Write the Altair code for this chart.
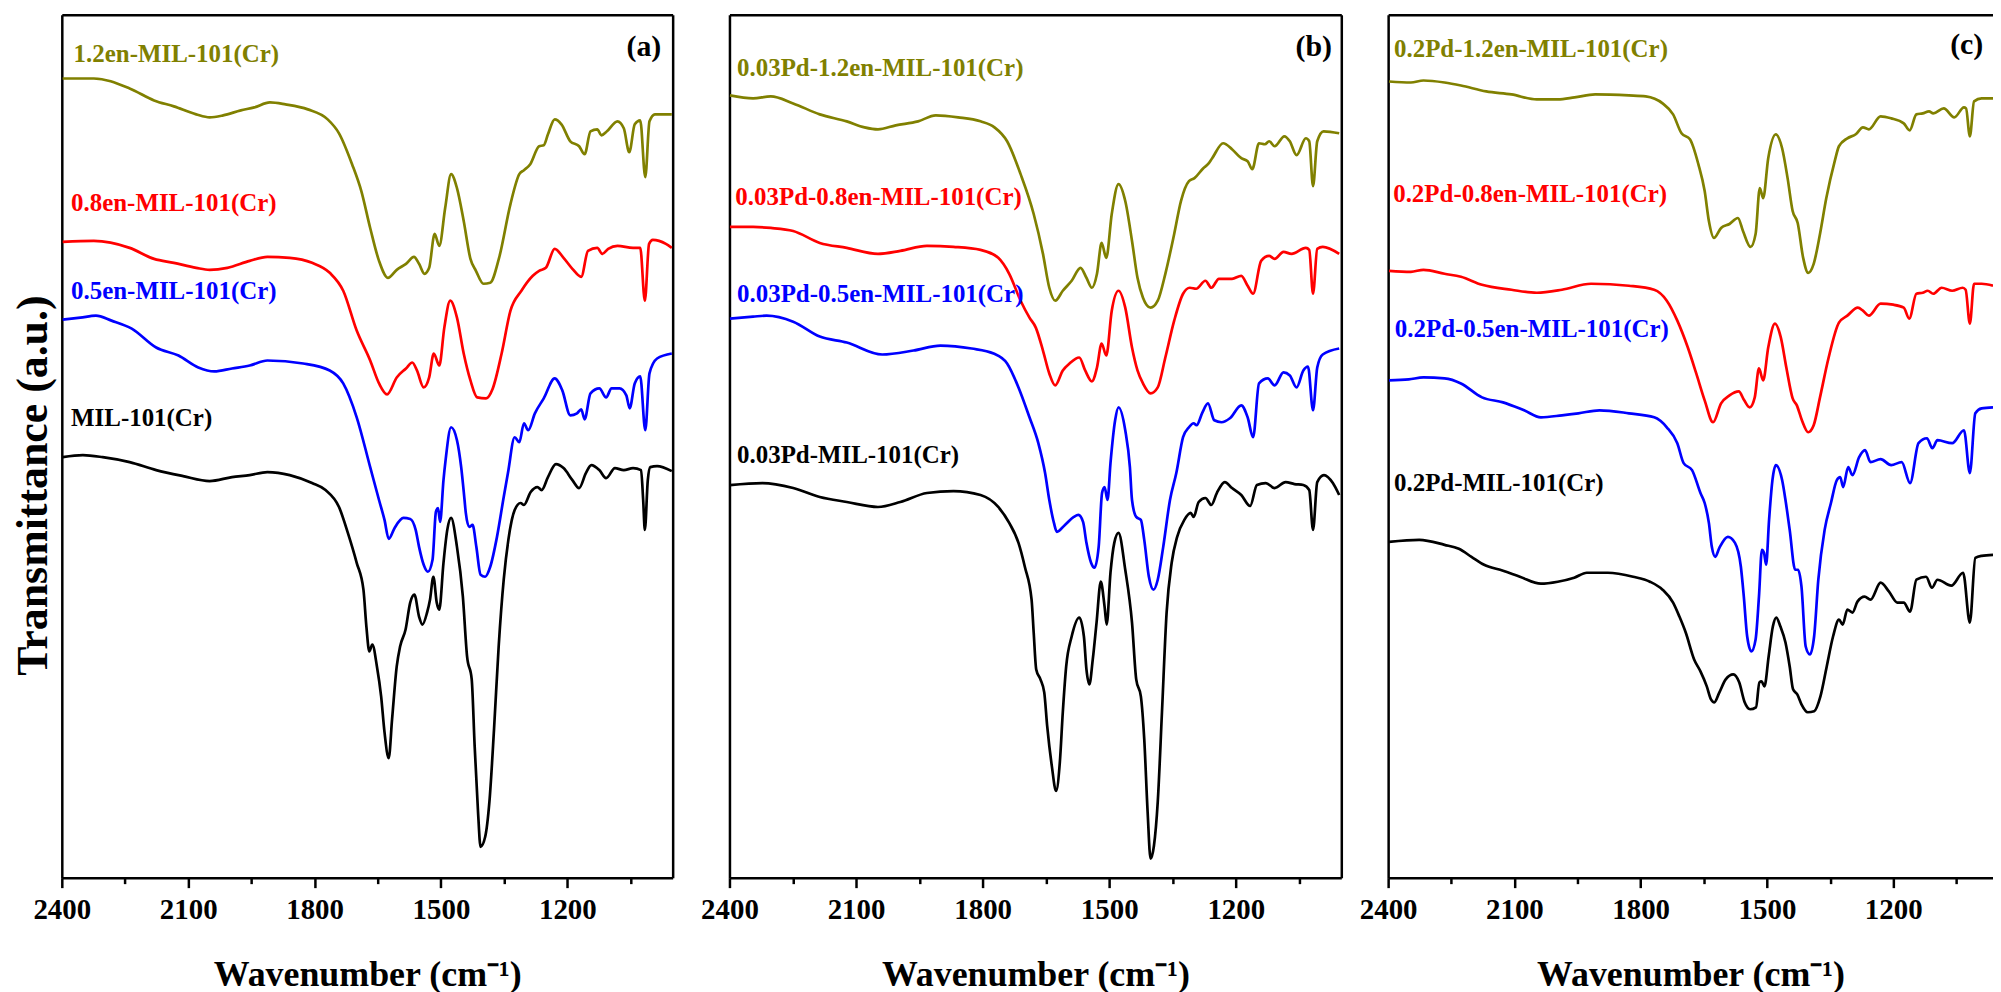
import altair as alt
import pandas as pd

FONT = "Liberation Serif"

# ---------------- Panel (a) ----------------
A_OLIVE_WN = [2398, 2324, 2239, 2181, 2134, 2081, 2049, 2017, 1975, 1943, 1906, 1869, 1816, 1769, 1742, 1711, 1689, 1668, 1647, 1626,
              1605, 1583, 1564, 1552, 1539, 1528, 1515, 1504, 1490, 1476, 1462, 1446, 1430, 1417, 1399, 1383, 1362, 1335, 1314, 1303,
              1288, 1267, 1256, 1246, 1230, 1214, 1193, 1172, 1159, 1145, 1129, 1119, 1106, 1081, 1066, 1053, 1040, 1027, 1015, 1005, 992, 952]
A_OLIVE_T = [80.2, 80.2, 79.2, 78.0, 77.4, 76.6, 76.3, 76.5, 77.0, 77.3, 77.8, 77.6, 77.1, 76.1, 74.7, 71.6, 68.9, 65.2, 61.9, 60.2,
             61.0, 61.6, 62.3, 61.6, 60.6, 61.2, 64.6, 63.4, 67.2, 70.6, 69.2, 65.9, 62.1, 60.9, 59.6, 59.7, 62.2, 67.6, 70.6, 71.0,
             71.6, 73.4, 73.5, 74.6, 76.1, 75.6, 73.9, 73.4, 72.6, 74.9, 75.1, 74.5, 74.9, 75.9, 75.2, 72.8, 75.6, 76.0, 70.3, 75.9, 76.6, 76.6]

A_RED_WN = [2398, 2324, 2239, 2181, 2134, 2081, 2049, 2007, 1954, 1912, 1859, 1806, 1764, 1732, 1700, 1668, 1647, 1628, 1605, 1583,
            1568, 1557, 1541, 1528, 1517, 1504, 1492, 1478, 1462, 1446, 1430, 1414, 1393, 1377, 1356, 1335, 1309, 1282, 1267, 1251,
            1230, 1209, 1188, 1167, 1151, 1129, 1117, 1103, 1081, 1044, 1027, 1016, 1006, 997, 966, 952]
A_RED_T = [63.8, 63.9, 63.2, 62.1, 61.7, 61.2, 61.0, 61.2, 61.9, 62.3, 62.2, 61.7, 60.7, 58.9, 54.9, 51.9, 49.6, 48.5, 50.2, 51.1,
           51.7, 50.9, 49.2, 50.2, 52.6, 51.4, 55.2, 57.9, 56.2, 52.6, 49.9, 48.2, 48.1, 49.1, 52.6, 56.9, 58.9, 60.4, 60.9, 61.2,
           63.1, 62.2, 61.1, 60.3, 62.9, 63.2, 62.6, 63.1, 63.4, 63.2, 63.2, 57.9, 63.6, 64.0, 63.6, 63.2]

A_BLUE_WN = [2398, 2356, 2319, 2282, 2234, 2176, 2123, 2076, 2038, 1996, 1954, 1912, 1827, 1764, 1732, 1700, 1668, 1647, 1634, 1624,
             1610, 1589, 1573, 1560, 1552, 1541, 1531, 1520, 1512, 1507, 1502, 1494, 1489, 1476, 1462, 1452, 1444, 1441, 1433, 1425,
             1416, 1406, 1395, 1383, 1367, 1351, 1341, 1325, 1314, 1303, 1293, 1277, 1256, 1230, 1212, 1193, 1177, 1167, 1159, 1145,
             1124, 1108, 1095, 1076, 1060, 1052, 1040, 1027, 1015, 1005, 987, 952]
A_BLUE_T = [56.0, 56.2, 56.4, 55.9, 55.1, 53.2, 52.4, 51.2, 50.8, 51.1, 51.4, 51.9, 51.6, 50.9, 49.6, 46.2, 41.2, 37.9, 35.9, 34.0,
            35.1, 36.1, 36.0, 34.9, 33.2, 31.4, 30.7, 31.9, 36.7, 37.1, 35.7, 39.9, 41.9, 45.2, 43.9, 41.2, 37.9, 36.6, 35.2, 35.4,
            33.2, 30.4, 30.2, 31.2, 34.2, 38.2, 40.6, 44.2, 43.7, 45.6, 44.9, 46.6, 48.1, 50.1, 48.9, 46.4, 46.6, 47.0, 46.0, 48.6,
            49.1, 48.2, 49.1, 49.1, 48.4, 47.1, 49.6, 50.3, 44.9, 50.6, 52.1, 52.6]

A_BLACK_WN = [2398, 2350, 2303, 2239, 2176, 2112, 2049, 1996, 1954, 1912, 1859, 1806, 1774, 1742, 1721, 1700, 1684, 1677, 1670, 1663,
              1652, 1642, 1634, 1624, 1616, 1605, 1597, 1584, 1573, 1563, 1552, 1544, 1533, 1526, 1518, 1510, 1504, 1494, 1485, 1476,
              1462, 1448, 1438, 1427, 1420, 1412, 1406, 1395, 1385, 1374, 1363, 1351, 1340, 1325, 1311, 1303, 1287, 1271, 1261, 1246,
              1227, 1209, 1188, 1172, 1156, 1143, 1124, 1108, 1087, 1066, 1044, 1025, 1020, 1016, 1009, 1003, 987, 952]
A_BLACK_T = [42.2, 42.4, 42.2, 41.7, 40.9, 40.3, 39.8, 40.2, 40.4, 40.7, 40.4, 39.6, 38.9, 37.2, 34.6, 31.6, 28.9, 25.2, 22.7, 23.4,
             21.2, 18.2, 14.6, 12.0, 15.9, 21.2, 23.2, 24.9, 27.6, 28.4, 26.2, 25.4, 26.6, 27.9, 30.2, 27.6, 26.9, 31.6, 34.9, 36.1,
             33.2, 28.2, 22.2, 19.9, 13.2, 6.6, 3.1, 4.1, 7.6, 14.9, 23.2, 29.9, 33.9, 36.9, 37.6, 37.4, 38.7, 39.2, 38.9, 40.2,
             41.5, 41.1, 39.9, 39.1, 40.6, 41.4, 40.9, 40.1, 41.1, 40.9, 41.1, 40.9, 37.9, 34.9, 39.9, 41.2, 41.3, 40.8]

# ---------------- Panel (b) ----------------
B_OLIVE_WN = [2399, 2344, 2302, 2249, 2186, 2122, 2080, 2048, 2006, 1953, 1911, 1858, 1805, 1772, 1742, 1710, 1679, 1657, 1642, 1628,
              1610, 1589, 1568, 1554, 1541, 1529, 1518, 1507, 1494, 1478, 1462, 1446, 1433, 1420, 1402, 1385, 1367, 1346, 1330, 1311,
              1298, 1277, 1266, 1256, 1230, 1209, 1187, 1172, 1161, 1145, 1131, 1121, 1108, 1085, 1072, 1056, 1034, 1026, 1017, 1007, 992, 955]
B_OLIVE_T = [78.5, 78.2, 78.4, 77.7, 76.6, 75.9, 75.3, 75.1, 75.5, 75.9, 76.5, 76.3, 75.9, 75.3, 73.9, 70.6, 66.6, 62.6, 59.2, 57.9,
             58.9, 59.9, 61.2, 60.2, 59.2, 60.6, 63.7, 62.2, 66.6, 69.6, 67.9, 63.9, 60.2, 58.2, 57.2, 57.9, 60.6, 64.6, 67.9, 69.9,
             70.2, 71.2, 71.6, 72.2, 73.7, 73.1, 72.2, 71.9, 71.1, 73.7, 73.6, 73.9, 73.4, 74.4, 73.9, 72.5, 74.2, 73.9, 69.4, 73.9, 74.9, 74.7]

B_RED_WN = [2399, 2344, 2302, 2249, 2186, 2122, 2048, 1995, 1932, 1869, 1805, 1763, 1737, 1710, 1689, 1674, 1657, 1642, 1628, 1610,
            1594, 1571, 1557, 1541, 1529, 1518, 1507, 1494, 1478, 1462, 1446, 1433, 1420, 1402, 1385, 1367, 1346, 1325, 1309, 1294,
            1272, 1258, 1240, 1209, 1187, 1172, 1159, 1140, 1121, 1108, 1087, 1068, 1034, 1026, 1017, 1007, 994, 955]
B_RED_T = [65.3, 65.3, 65.2, 64.9, 63.7, 63.2, 62.6, 62.9, 63.4, 63.3, 63.0, 62.2, 60.6, 57.9, 56.2, 55.2, 52.9, 50.6, 49.4, 50.9,
           51.6, 52.2, 50.9, 49.8, 51.2, 53.6, 52.4, 56.9, 58.9, 57.2, 53.2, 50.9, 49.6, 48.6, 49.2, 52.2, 55.9, 58.6, 59.2, 59.1,
           59.9, 59.2, 60.1, 60.1, 60.4, 59.4, 58.6, 61.9, 62.4, 62.1, 62.8, 62.6, 63.2, 63.0, 58.6, 63.1, 63.3, 62.6]

B_BLUE_WN = [2399, 2344, 2312, 2249, 2186, 2122, 2038, 1964, 1900, 1826, 1774, 1742, 1715, 1689, 1668, 1652, 1642, 1631, 1624, 1605,
             1584, 1573, 1562, 1554, 1543, 1535, 1525, 1517, 1511, 1504, 1497, 1486, 1478, 1462, 1451, 1446, 1436, 1425, 1417, 1406,
             1395, 1385, 1372, 1356, 1341, 1325, 1311, 1300, 1293, 1279, 1266, 1251, 1234, 1214, 1187, 1172, 1159, 1145, 1124, 1108,
             1087, 1072, 1056, 1040, 1029, 1017, 1007, 994, 955]
B_BLUE_T = [56.1, 56.3, 56.4, 55.8, 54.3, 53.7, 52.5, 52.9, 53.4, 53.1, 52.6, 51.6, 49.2, 46.2, 43.6, 40.6, 37.9, 35.6, 34.7, 35.4,
            36.2, 36.4, 35.7, 33.6, 31.6, 31.1, 33.2, 38.6, 39.2, 37.9, 41.6, 45.9, 47.2, 44.9, 41.2, 37.9, 36.2, 35.9, 33.9, 30.2,
            28.9, 29.9, 33.2, 37.9, 40.6, 44.2, 45.2, 45.6, 45.4, 46.7, 47.6, 45.9, 45.7, 46.1, 47.4, 46.2, 44.2, 49.6, 50.1, 49.4,
            50.7, 50.4, 49.2, 50.9, 51.3, 46.9, 51.2, 52.5, 53.1]

B_BLACK_WN = [2399, 2322, 2249, 2186, 2122, 2048, 1995, 1932, 1869, 1805, 1763, 1737, 1715, 1700, 1684, 1679, 1673, 1663, 1654, 1647,
              1636, 1626, 1617, 1610, 1602, 1589, 1571, 1560, 1554, 1547, 1539, 1530, 1520, 1511, 1506, 1497, 1488, 1478, 1462, 1446,
              1436, 1425, 1417, 1409, 1402, 1394, 1385, 1375, 1364, 1352, 1339, 1322, 1307, 1300, 1288, 1272, 1258, 1245, 1226, 1209,
              1187, 1166, 1150, 1129, 1108, 1082, 1061, 1040, 1026, 1017, 1007, 991, 970, 955]
B_BLACK_T = [39.4, 39.6, 39.1, 38.2, 37.7, 37.2, 37.7, 38.6, 38.8, 38.4, 37.2, 35.6, 33.6, 31.2, 27.9, 24.6, 20.9, 19.9, 18.6, 15.2,
             11.2, 8.7, 11.6, 16.6, 21.2, 24.2, 26.1, 24.2, 20.9, 19.4, 21.9, 25.6, 29.7, 27.2, 25.4, 30.6, 33.6, 34.6, 30.9, 25.6,
             19.9, 18.2, 13.9, 6.6, 1.9, 3.2, 7.6, 16.6, 26.6, 31.6, 34.2, 35.9, 36.6, 36.2, 37.7, 38.1, 37.4, 38.6, 39.7, 39.1,
             38.4, 37.3, 39.4, 39.6, 39.1, 39.7, 39.5, 39.4, 38.9, 34.9, 39.7, 40.4, 39.6, 38.4]

# ---------------- Panel (c) ----------------
C_OLIVE_WN = [2398, 2346, 2316, 2266, 2227, 2167, 2107, 2047, 1997, 1957, 1908, 1828, 1788, 1748, 1723, 1703, 1683, 1663, 1648, 1638,
              1626, 1609, 1589, 1569, 1557, 1539, 1527, 1517, 1509, 1497, 1479, 1464, 1451, 1439, 1427, 1414, 1402, 1389, 1374, 1359,
              1339, 1329, 1309, 1289, 1272, 1258, 1230, 1205, 1175, 1161, 1145, 1130, 1115, 1105, 1080, 1055, 1032, 1027, 1018, 1008, 990, 963]
C_OLIVE_T = [79.9, 79.8, 80.0, 79.8, 79.5, 78.9, 78.6, 78.1, 78.1, 78.3, 78.6, 78.5, 78.4, 77.7, 76.6, 74.7, 74.1, 71.6, 68.9, 65.9,
             64.2, 65.2, 65.6, 66.2, 64.9, 63.3, 64.6, 69.2, 68.2, 72.2, 74.6, 73.2, 70.2, 66.9, 65.7, 62.2, 60.7, 61.6, 64.6, 68.2,
             71.9, 73.4, 74.2, 74.6, 75.3, 75.1, 76.4, 76.2, 75.7, 75.0, 76.6, 76.7, 76.9, 76.7, 77.2, 76.3, 77.3, 77.2, 74.4, 77.9, 78.2, 78.2]

C_RED_WN = [2398, 2346, 2316, 2266, 2227, 2177, 2107, 2047, 1987, 1918, 1828, 1768, 1738, 1713, 1688, 1668, 1648, 1628, 1609, 1589,
            1567, 1554, 1541, 1529, 1519, 1509, 1497, 1481, 1467, 1454, 1439, 1429, 1417, 1402, 1389, 1374, 1354, 1329, 1309, 1284,
            1272, 1258, 1230, 1200, 1175, 1162, 1145, 1130, 1118, 1105, 1085, 1060, 1035, 1028, 1018, 1008, 990, 963]
C_RED_T = [60.9, 60.8, 61.0, 60.6, 60.3, 59.5, 59.0, 58.7, 59.0, 59.6, 59.4, 59.0, 57.9, 55.9, 53.2, 50.6, 47.9, 45.7, 47.6, 48.4,
           48.8, 47.9, 47.2, 48.2, 51.1, 49.9, 53.2, 55.6, 54.2, 51.2, 48.1, 47.4, 45.9, 44.7, 45.4, 48.2, 52.1, 55.7, 56.4, 57.2,
           56.9, 56.4, 57.6, 57.5, 57.2, 56.1, 58.6, 58.7, 58.9, 58.6, 59.2, 58.9, 59.2, 59.0, 55.6, 59.6, 59.6, 59.4]

C_BLUE_WN = [2398, 2351, 2316, 2266, 2227, 2177, 2127, 2077, 2037, 1987, 1948, 1898, 1828, 1768, 1738, 1713, 1698, 1678, 1658, 1648,
             1638, 1631, 1623, 1613, 1593, 1576, 1562, 1555, 1547, 1537, 1527, 1519, 1512, 1507, 1502, 1495, 1487, 1479, 1464, 1456,
             1446, 1433, 1426, 1418, 1408, 1398, 1388, 1378, 1363, 1348, 1334, 1326, 1319, 1307, 1297, 1281, 1267, 1254, 1230, 1205,
             1180, 1160, 1140, 1120, 1107, 1095, 1060, 1032, 1018, 1005, 990, 963]
C_BLUE_T = [49.9, 50.0, 50.2, 50.1, 49.6, 48.2, 47.7, 46.9, 46.2, 46.4, 46.6, 46.9, 46.6, 46.2, 45.2, 43.6, 41.6, 40.9, 38.6, 37.6,
            35.6, 33.2, 32.2, 33.1, 34.2, 33.6, 31.2, 28.2, 24.2, 22.7, 23.9, 28.2, 32.9, 32.6, 31.4, 35.9, 39.9, 41.4, 39.9, 37.9,
            34.9, 30.9, 30.9, 29.2, 23.2, 22.4, 24.2, 29.9, 34.9, 37.6, 39.9, 40.2, 39.2, 41.2, 40.4, 42.2, 42.9, 41.7, 42.0, 41.4,
            41.7, 39.6, 43.6, 44.1, 43.1, 43.9, 43.6, 44.9, 40.6, 46.6, 47.1, 47.2]

C_BLACK_WN = [2398, 2326, 2266, 2232, 2202, 2172, 2127, 2087, 2037, 1997, 1958, 1928, 1878, 1818, 1778, 1748, 1723, 1708, 1693, 1673,
              1658, 1643, 1633, 1625, 1613, 1598, 1580, 1566, 1553, 1540, 1526, 1518, 1513, 1506, 1496, 1486, 1478, 1468, 1456, 1446,
              1438, 1428, 1418, 1403, 1388, 1373, 1358, 1343, 1329, 1320, 1309, 1297, 1285, 1268, 1254, 1230, 1210, 1190, 1175, 1160,
              1145, 1122, 1108, 1095, 1062, 1034, 1018, 1005, 990, 963]
C_BLACK_T = [33.7, 33.9, 33.4, 33.0, 32.2, 31.4, 30.8, 30.2, 29.5, 29.7, 30.1, 30.6, 30.6, 30.2, 29.7, 28.9, 27.6, 26.2, 24.6, 21.9,
             20.7, 19.2, 17.9, 17.6, 18.6, 19.9, 20.4, 19.6, 17.6, 16.9, 17.1, 19.6, 19.7, 19.2, 22.2, 25.2, 26.1, 25.2, 23.6, 21.2,
             18.9, 18.4, 17.4, 16.6, 16.7, 18.2, 21.2, 24.2, 25.9, 25.4, 26.9, 26.6, 27.7, 28.2, 27.9, 29.6, 28.7, 27.6, 27.6, 26.7,
             29.9, 30.2, 29.1, 29.9, 29.3, 30.6, 25.6, 32.1, 32.3, 32.4]

ROLES = ["olive", "red", "blue", "black"]
COLORS = ["#808000", "#FF0000", "#0000FF", "#000000"]

PANEL_A_NAMES = ["1.2en-MIL-101(Cr)", "0.8en-MIL-101(Cr)", "0.5en-MIL-101(Cr)", "MIL-101(Cr)"]
PANEL_B_NAMES = ["0.03Pd-1.2en-MIL-101(Cr)", "0.03Pd-0.8en-MIL-101(Cr)", "0.03Pd-0.5en-MIL-101(Cr)", "0.03Pd-MIL-101(Cr)"]
PANEL_C_NAMES = ["0.2Pd-1.2en-MIL-101(Cr)", "0.2Pd-0.8en-MIL-101(Cr)", "0.2Pd-0.5en-MIL-101(Cr)", "0.2Pd-MIL-101(Cr)"]

# label anchors (wavenumber, transmittance a.u.)
PANEL_A_LABEL_WN = [2372, 2378, 2378, 2378]
PANEL_A_LABEL_T = [82.7, 67.7, 58.9, 46.1]
PANEL_B_LABEL_WN = [2382, 2386, 2382, 2382]
PANEL_B_LABEL_T = [81.3, 68.3, 58.6, 42.4]
PANEL_C_LABEL_WN = [2386, 2388, 2384, 2386]
PANEL_C_LABEL_T = [83.2, 68.6, 55.1, 39.6]

TAGS = ["(a)", "(b)", "(c)"]
TAG_WN = [977, 972, 986]
TAG_T = [83.4, 83.4, 83.6]

X_TICKS = [2400, 2250, 2100, 1950, 1800, 1650, 1500, 1350, 1200, 1050]
Y_DOMAIN = [0, 86.6]
X_TITLE = "Wavenumber (cm\u207b\u00b9)"
PLOT_H = 866


def make_panel(series, names, lab_wn, lab_t, tag, tag_wn, tag_t, x_end, width, y_title, right_border):
    rows = []
    for role, name, (wns, ts) in zip(ROLES, names, series):
        for w, t in zip(wns, ts):
            rows.append({"wn": w, "t": t, "role": role, "series": name})
    df = pd.DataFrame(rows)
    lab = pd.DataFrame({"wn": lab_wn, "t": lab_t, "text": names, "role": ROLES})
    tagdf = pd.DataFrame({"wn": [tag_wn], "t": [tag_t], "text": [tag]})

    xs = alt.Scale(domain=[2400, x_end], nice=False, zero=False)
    ys = alt.Scale(domain=Y_DOMAIN, nice=False, zero=False)
    color = alt.Color("role:N", scale=alt.Scale(domain=ROLES, range=COLORS), legend=None)

    bottom_axis = alt.Axis(
        orient="bottom", values=X_TICKS, title=X_TITLE,
        labelExpr="datum.value % 300 == 0 ? datum.label : ''",
        tickSize={"condition": {"test": "datum.value % 300 == 0", "value": 10}, "value": 6},
        labelPadding=8, titlePadding=33, labelFlush=False, labelOverlap=False,
        format="d", grid=False,
    )
    if y_title:
        left_axis = alt.Axis(orient="left", labels=False, ticks=False, grid=False,
                             title=y_title, titlePadding=6, titleFontSize=44, titleY=472)
    else:
        left_axis = alt.Axis(orient="left", labels=False, ticks=False, grid=False, title="")

    lines = alt.Chart(df).mark_line(strokeWidth=2.7, clip=True, interpolate="monotone").encode(
        x=alt.X("wn:Q", scale=xs, axis=bottom_axis),
        y=alt.Y("t:Q", scale=ys, axis=left_axis),
        color=color,
        detail="series:N",
    )
    texts = alt.Chart(lab).mark_text(
        align="left", baseline="middle", font=FONT, fontWeight="bold", fontSize=25
    ).encode(
        x=alt.X("wn:Q", scale=xs, axis=None),
        y=alt.Y("t:Q", scale=ys, axis=None),
        color=color,
        text="text:N",
    )
    tagmark = alt.Chart(tagdf).mark_text(
        align="right", baseline="middle", font=FONT, fontWeight="bold", fontSize=30, color="black"
    ).encode(
        x=alt.X("wn:Q", scale=xs, axis=None),
        y=alt.Y("t:Q", scale=ys, axis=None),
        text="text:N",
    )
    top_axis = alt.Axis(orient="top", labels=False, ticks=False, grid=False, title="")
    if right_border:
        y_frame = alt.Y("t:Q", scale=ys, axis=alt.Axis(orient="right", labels=False, ticks=False, grid=False, title=""))
    else:
        y_frame = alt.Y("t:Q", scale=ys, axis=None)
    frame = alt.Chart(df).mark_line(strokeOpacity=0).encode(
        x=alt.X("wn:Q", scale=xs, axis=top_axis),
        y=y_frame,
        detail="series:N",
    )
    return alt.layer(lines, texts, tagmark, frame).resolve_axis(
        x="independent", y="independent"
    ).properties(width=width, height=PLOT_H)


def spacer(w):
    d = pd.DataFrame({"v": [0]})
    return alt.Chart(d).mark_point(opacity=0).encode(
        x=alt.X("v:Q", axis=None), y=alt.Y("v:Q", axis=None)
    ).properties(width=w, height=PLOT_H)


pa = make_panel([(A_OLIVE_WN, A_OLIVE_T), (A_RED_WN, A_RED_T), (A_BLUE_WN, A_BLUE_T), (A_BLACK_WN, A_BLACK_T)],
                PANEL_A_NAMES, PANEL_A_LABEL_WN, PANEL_A_LABEL_T, TAGS[0], TAG_WN[0], TAG_T[0],
                950, 613, "Transmittance (a.u.)", True)
pb = make_panel([(B_OLIVE_WN, B_OLIVE_T), (B_RED_WN, B_RED_T), (B_BLUE_WN, B_BLUE_T), (B_BLACK_WN, B_BLACK_T)],
                PANEL_B_NAMES, PANEL_B_LABEL_WN, PANEL_B_LABEL_T, TAGS[1], TAG_WN[1], TAG_T[1],
                950, 614, None, True)
pc = make_panel([(C_OLIVE_WN, C_OLIVE_T), (C_RED_WN, C_RED_T), (C_BLUE_WN, C_BLUE_T), (C_BLACK_WN, C_BLACK_T)],
                PANEL_C_NAMES, PANEL_C_LABEL_WN, PANEL_C_LABEL_T, TAGS[2], TAG_WN[2], TAG_T[2],
                963, 607, None, False)

chart = alt.hconcat(pa, spacer(57), pb, spacer(47), pc, spacing=0, bounds="flush").properties(
    padding={"left": 4, "top": 5, "right": 0, "bottom": 0},
    background="white",
).configure_view(stroke=None).configure_axis(
    labelFont=FONT, labelFontSize=29, labelFontWeight="bold", labelColor="black",
    titleFont=FONT, titleFontSize=36, titleFontWeight="bold", titleColor="black",
    domainColor="black", domainWidth=2.5, tickColor="black", tickWidth=2.5,
)

chart.save("out.html", embed_options={"renderer": "svg", "actions": False})
